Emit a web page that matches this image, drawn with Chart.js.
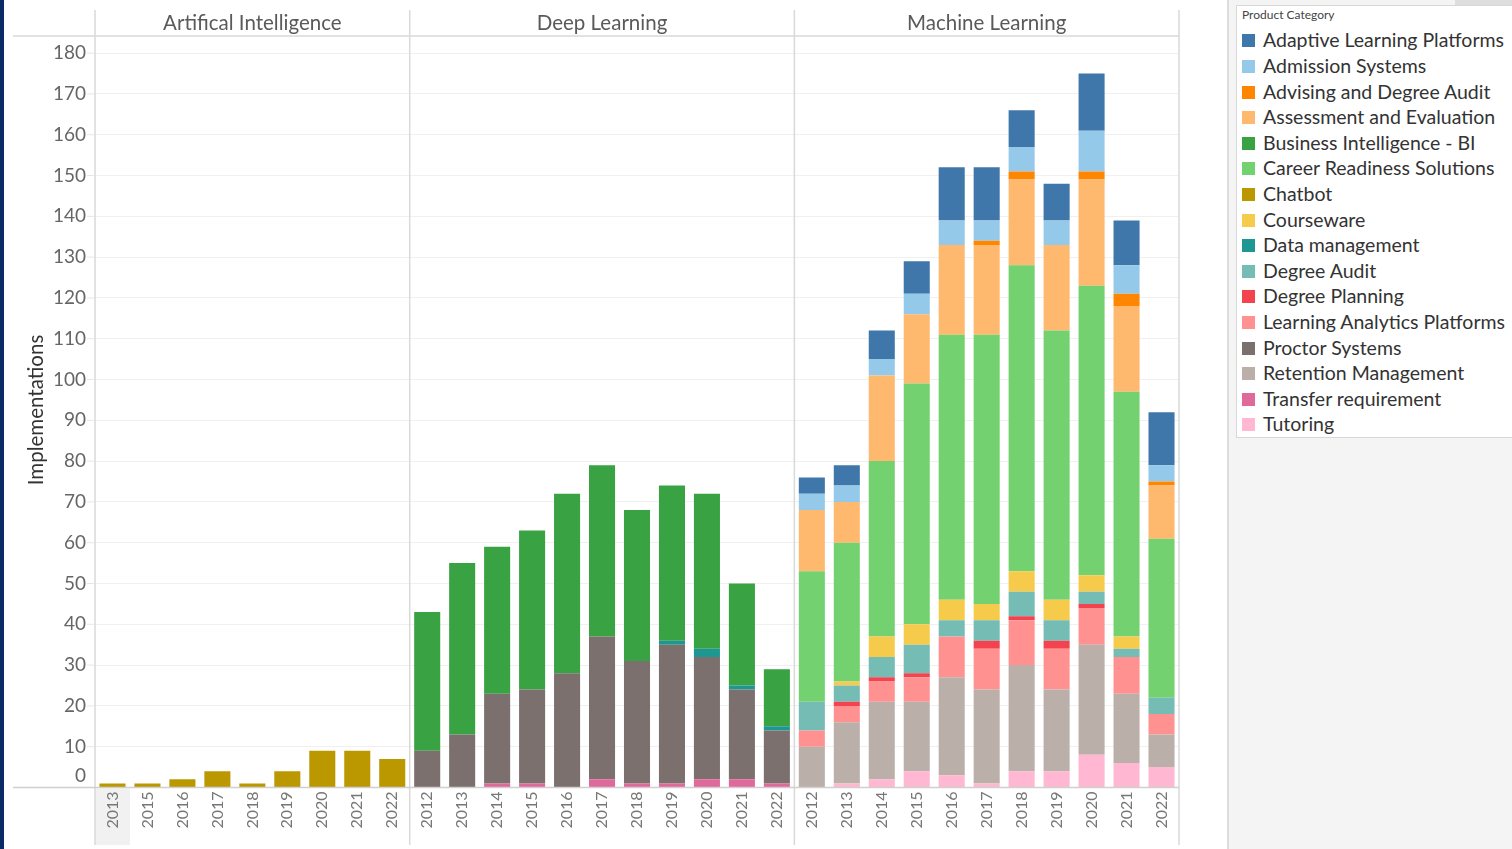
<!DOCTYPE html>
<html>
<head>
<meta charset="utf-8">
<script src="https://cdn.jsdelivr.net/npm/chart.js@4.4.1/dist/chart.umd.min.js"></script>
<style>
html,body{margin:0;padding:0;width:1512px;height:849px;overflow:hidden;background:#fff;font-family:Lato,"Open Sans",sans-serif;}
#c{position:absolute;left:0;top:0;}
#navy{position:absolute;left:0;top:0;width:4px;height:849px;background:#0b2a67;}
#side{position:absolute;left:1227px;top:0;width:285px;height:849px;background:#f4f4f4;border-left:2px solid #dcdcdc;}
#patch{position:absolute;left:1455px;top:0;width:57px;height:5px;background:#dedede;}
#legend{position:absolute;left:1236px;top:5px;width:276px;height:433px;background:#fff;border:1px solid #d8d8d8;border-right:none;box-sizing:border-box;}
.lt{position:absolute;left:1242px;top:7px;font-size:12px;color:#444;white-space:nowrap;}
.li{position:absolute;left:1242px;height:22px;white-space:nowrap;}
.sw{position:absolute;left:0;top:4px;width:13px;height:13px;}
.tx{position:absolute;left:21px;top:-1px;font-size:19.5px;line-height:22px;color:#333;}
</style>
</head>
<body>
<canvas id="c" width="1228" height="849"></canvas>
<div id="navy"></div>
<div id="side"></div>
<div id="patch"></div>
<div id="legend"></div>
<div id="legendItems"></div>
<script>
// ---- categories ----
const panelNames = ['Artifical Intelligence', 'Deep Learning', 'Machine Learning'];
const aiYears = ['2013','2015','2016','2017','2018','2019','2020','2021','2022'];
const dlYears = ['2012','2013','2014','2015','2016','2017','2018','2019','2020','2021','2022'];
const mlYears = ['2012','2013','2014','2015','2016','2017','2018','2019','2020','2021','2022'];
const yTickValues = [0,10,20,30,40,50,60,70,80,90,100,110,120,130,140,150,160,170,180];

// ---- series names (legend order) and colours ----
const seriesNames = ['Adaptive Learning Platforms','Admission Systems','Advising and Degree Audit','Assessment and Evaluation','Business Intelligence - BI','Career Readiness Solutions','Chatbot','Courseware','Data management','Degree Audit','Degree Planning','Learning Analytics Platforms','Proctor Systems','Retention Management','Transfer requirement','Tutoring'];
const seriesColors = ['#4077aa','#95c9ea','#ff8600','#ffb96f','#39a243','#74d16f','#bb9800','#f6cb4b','#1e9793','#74bcb4','#f3434f','#ff9291','#7b706d','#bbafaa','#e0699b','#ffb7d2'];

// ---- Artifical Intelligence panel values ----
const chatbotAI = [1,1,2,4,1,4,9,9,7];

// ---- Deep Learning panel values ----
const transferDL = [0,0,1,1,0,2,1,1,2,2,1];
const proctorDL  = [9,13,22,23,28,35,30,34,30,22,13];
const dataMgmtDL = [0,0,0,0,0,0,0,1,2,1,1];
const biDL       = [34,42,36,39,44,42,37,38,38,25,14];

// ---- Machine Learning panel values ----
const tutoringML   = [0,1,2,4,3,1,4,4,8,6,5];
const retentionML  = [10,15,19,17,24,23,26,20,27,17,8];
const analyticsML  = [4,4,5,6,10,10,11,10,9,9,5];
const planningML   = [0,1,1,1,0,2,1,2,1,0,0];
const degAuditML   = [7,4,5,7,4,5,6,5,3,2,4];
const coursewareML = [0,1,5,5,5,4,5,5,4,3,0];
const careerML     = [32,34,43,59,65,66,75,66,71,60,39];
const assessmentML = [15,10,21,17,22,22,21,21,26,21,13];
const advisingML   = [0,0,0,0,0,1,2,0,2,3,1];
const admissionML  = [4,4,4,5,6,5,6,6,10,7,4];
const adaptiveML   = [4,5,7,8,13,13,9,9,14,11,13];

// series -> [AI, DL, ML]
const seriesPanels = {
  'Adaptive Learning Platforms': [null, null, adaptiveML],
  'Admission Systems': [null, null, admissionML],
  'Advising and Degree Audit': [null, null, advisingML],
  'Assessment and Evaluation': [null, null, assessmentML],
  'Business Intelligence - BI': [null, biDL, null],
  'Career Readiness Solutions': [null, null, careerML],
  'Chatbot': [chatbotAI, null, null],
  'Courseware': [null, null, coursewareML],
  'Data management': [null, dataMgmtDL, null],
  'Degree Audit': [null, null, degAuditML],
  'Degree Planning': [null, null, planningML],
  'Learning Analytics Platforms': [null, null, analyticsML],
  'Proctor Systems': [null, proctorDL, null],
  'Retention Management': [null, null, retentionML],
  'Transfer requirement': [null, transferDL, null],
  'Tutoring': [null, null, tutoringML]
};

const panelYears = [aiYears, dlYears, mlYears];
const labels = [].concat(aiYears, dlYears, mlYears);

function buildData(name) {
  const out = [];
  seriesPanels[name].forEach((arr, p) => {
    panelYears[p].forEach((y, i) => {
      const v = arr ? arr[i] : 0;
      out.push(v ? v : null);
    });
  });
  return out;
}

const datasets = seriesNames.slice().reverse().map(name => ({
  label: name,
  data: buildData(name),
  backgroundColor: seriesColors[seriesNames.indexOf(name)],
  borderWidth: 0,
  barPercentage: 0.745,
  categoryPercentage: 1.0
}));

const FONT = 'Lato, "Open Sans", sans-serif';
const LINE = '#d9d9d9';

const decor = {
  id: 'decor',
  beforeDraw(chart) {
    const ctx = chart.ctx, x = chart.scales.x;
    const half = (x.getPixelForValue(1) - x.getPixelForValue(0)) / 2;
    ctx.save();
    ctx.fillStyle = '#f1f1f1';
    const l = x.getPixelForValue(0) - half;
    ctx.fillRect(l, chart.chartArea.bottom + 1, half * 2, 845 - chart.chartArea.bottom - 1);
    ctx.restore();
  },
  afterDraw(chart) {
    const ctx = chart.ctx, x = chart.scales.x, y = chart.scales.y, ca = chart.chartArea;
    const half = (x.getPixelForValue(1) - x.getPixelForValue(0)) / 2;
    ctx.save();
    // panel boundaries
    const bounds = [ca.left];
    let idx = 0;
    panelYears.forEach(py => { idx += py.length; bounds.push(x.getPixelForValue(idx - 1) + half); });
    ctx.strokeStyle = LINE; ctx.lineWidth = 1.5;
    bounds.forEach(b => { ctx.beginPath(); ctx.moveTo(b, 10); ctx.lineTo(b, 845); ctx.stroke(); });
    // header line and baseline
    ctx.beginPath(); ctx.moveTo(13, ca.top); ctx.lineTo(bounds[bounds.length-1], ca.top); ctx.stroke();
    ctx.strokeStyle = '#d0d0d0';
    ctx.beginPath(); ctx.moveTo(13, ca.bottom); ctx.lineTo(bounds[bounds.length-1], ca.bottom); ctx.stroke();
    // panel headers
    ctx.fillStyle = '#5a5a5a';
    ctx.font = '20.5px ' + FONT;
    ctx.textAlign = 'center'; ctx.textBaseline = 'middle';
    panelNames.forEach((n, i) => ctx.fillText(n, (bounds[i] + bounds[i+1]) / 2, 23));
    // y ticks
    ctx.font = '19px ' + FONT;
    ctx.fillStyle = '#666';
    ctx.textAlign = 'right';
    ctx.strokeStyle = '#e6e6e6'; ctx.lineWidth = 1;
    yTickValues.forEach(v => {
      let py = y.getPixelForValue(v);
      if (v !== 0) { ctx.beginPath(); ctx.moveTo(87, py); ctx.lineTo(ca.left, py); ctx.stroke(); }
      const ty = v === 0 ? py - 12 : py;
      ctx.fillText(String(v), 86, ty);
    });
    // y title
    ctx.translate(36, 410);
    ctx.rotate(-Math.PI / 2);
    ctx.fillStyle = '#333';
    ctx.font = '20.5px ' + FONT;
    ctx.textAlign = 'center';
    ctx.fillText('Implementations', 0, 0);
    ctx.restore();
  }
};

new Chart(document.getElementById('c'), {
  type: 'bar',
  data: { labels: labels, datasets: datasets },
  options: {
    responsive: false,
    animation: false,
    layout: { padding: { left: 0, right: 49, top: 36, bottom: 0 } },
    plugins: { legend: { display: false }, tooltip: { enabled: false } },
    scales: {
      x: {
        stacked: true,
        grid: { display: false, drawTicks: false },
        border: { display: false },
        ticks: { autoSkip: false, minRotation: 90, maxRotation: 90, padding: 4, color: '#777', font: { family: FONT, size: 16 } },
        afterFit(s) { s.height = 849 - 787.5; }
      },
      y: {
        stacked: true,
        min: 0, max: 184.2,
        ticks: { display: false, stepSize: 10 },
        grid: { color: '#f0f0f0', drawTicks: false },
        border: { display: false },
        afterBuildTicks(s) { s.ticks = s.ticks.filter(t => t.value % 10 === 0); },
        afterFit(s) { s.width = 95; }
      }
    }
  },
  plugins: [decor]
});

// HTML legend
const lg = document.getElementById('legendItems');
const t = document.createElement('div'); t.className = 'lt'; t.textContent = 'Product Category'; lg.appendChild(t);
seriesNames.forEach((n, i) => {
  const row = document.createElement('div'); row.className = 'li';
  row.style.top = (41.3 + i * 25.6 - 11) + 'px';
  const sw = document.createElement('div'); sw.className = 'sw'; sw.style.background = seriesColors[i];
  const tx = document.createElement('div'); tx.className = 'tx'; tx.textContent = n;
  row.appendChild(sw); row.appendChild(tx); lg.appendChild(row);
});
</script>
</body>
</html>
